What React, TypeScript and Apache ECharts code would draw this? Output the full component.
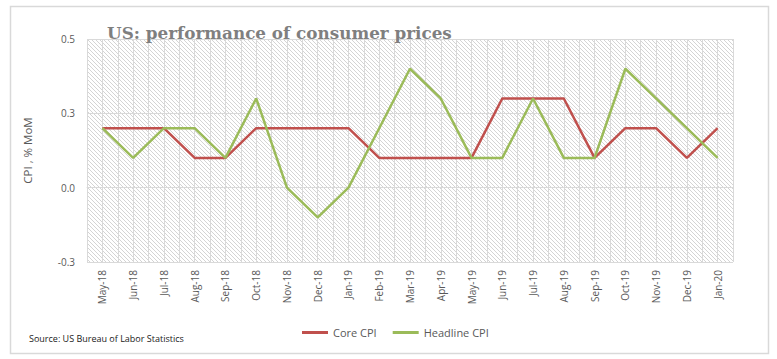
import React, { useEffect, useRef } from "react";
import * as echarts from "echarts";

const categories = [
  "May-18", "Jun-18", "Jul-18", "Aug-18", "Sep-18", "Oct-18", "Nov-18", "Dec-18",
  "Jan-19", "Feb-19", "Mar-19", "Apr-19", "May-19", "Jun-19", "Jul-19", "Aug-19",
  "Sep-19", "Oct-19", "Nov-19", "Dec-19", "Jan-20",
];
const coreCPI = [0.2, 0.2, 0.2, 0.1, 0.1, 0.2, 0.2, 0.2, 0.2, 0.1, 0.1, 0.1, 0.1, 0.3, 0.3, 0.3, 0.1, 0.2, 0.2, 0.1, 0.2];
const headlineCPI = [0.2, 0.1, 0.2, 0.2, 0.1, 0.3, 0.0, -0.1, 0.0, 0.2, 0.4, 0.3, 0.1, 0.1, 0.3, 0.1, 0.1, 0.4, 0.3, 0.2, 0.1];
const yMin = -0.25;
const yMax = 0.5;
const yStep = 0.25;

function fmtTick(v: number): string {
  const a = Math.round(Math.abs(v) * 10) / 10;
  return (v < 0 ? "-" : "") + a.toFixed(1);
}

function makeHatch(): HTMLCanvasElement {
  const c = document.createElement("canvas");
  const s = 4;
  c.width = s;
  c.height = s;
  const ctx = c.getContext("2d")!;
  ctx.fillStyle = "#ffffff";
  ctx.fillRect(0, 0, s, s);
  ctx.strokeStyle = "#d4d4d4";
  ctx.lineWidth = 1;
  ctx.beginPath();
  ctx.moveTo(-1, -1);
  ctx.lineTo(s + 1, s + 1);
  ctx.moveTo(-1, s - 1);
  ctx.lineTo(1, s + 1);
  ctx.moveTo(s - 1, -1);
  ctx.lineTo(s + 1, 1);
  ctx.stroke();
  return c;
}

export default function App() {
  const ref = useRef<HTMLDivElement>(null);
  useEffect(() => {
    document.body.style.margin = "0";
    if (!ref.current) return;
    const chart = echarts.init(ref.current, undefined, { renderer: "svg" });
    const halfCats = categories.flatMap((c) => [c + "a", c + "b"]);
    const labelFont = "'Open Sans', 'Liberation Sans', sans-serif";
    chart.setOption({
      animation: false,
      backgroundColor: "#ffffff",
      grid: {
        left: 87,
        top: 39,
        right: 44,
        bottom: 97,
        show: true,
        borderWidth: 0,
        backgroundColor: { image: makeHatch(), repeat: "repeat" },
      },
      xAxis: [
        {
          type: "category",
          data: categories,
          boundaryGap: true,
          axisLine: { show: true, lineStyle: { color: "#d9d9d9", width: 1 } },
          axisTick: { show: false },
          splitLine: { show: false },
          axisLabel: {
            interval: 0,
            rotate: 90,
            margin: 8,
            color: "#595959",
            fontSize: 10,
            fontFamily: labelFont,
          },
        },
        {
          type: "category",
          data: halfCats,
          boundaryGap: true,
          position: "bottom",
          axisLine: { show: false },
          axisTick: { show: false },
          axisLabel: { show: false, interval: 0 },
          splitLine: { show: true, interval: 0, lineStyle: { color: "#d9d9d9", width: 1 } },
        },
      ],
      yAxis: {
        type: "value",
        min: yMin,
        max: yMax,
        interval: yStep,
        name: "CPI , % MoM",
        nameLocation: "middle",
        nameRotate: 90,
        nameGap: 54,
        nameTextStyle: { color: "#595959", fontSize: 11.5, fontFamily: labelFont },
        axisLine: { show: false },
        axisTick: { show: false },
        splitLine: { show: true, lineStyle: { color: "#d9d9d9", width: 1 } },
        axisLabel: {
          margin: 12,
          color: "#595959",
          fontSize: 10,
          fontFamily: labelFont,
          formatter: (v: number) => fmtTick(v),
        },
      },
      legend: {
        left: 297,
        top: 322,
        itemWidth: 26,
        itemHeight: 3,
        itemGap: 16,
        icon: "rect",
        textStyle: { color: "#595959", fontSize: 11, fontFamily: labelFont },
        data: ["Core CPI", "Headline CPI"],
      },
      series: [
        {
          name: "Core CPI",
          type: "line",
          xAxisIndex: 0,
          data: coreCPI,
          showSymbol: false,
          symbol: "none",
          lineStyle: { color: "#C0504D", width: 2.5 },
          itemStyle: { color: "#C0504D" },
        },
        {
          name: "Headline CPI",
          type: "line",
          xAxisIndex: 0,
          data: headlineCPI,
          showSymbol: false,
          symbol: "none",
          lineStyle: { color: "#9BBB59", width: 2.5 },
          itemStyle: { color: "#9BBB59" },
        },
      ],
      graphic: [
        {
          type: "rect",
          shape: { x: 10.5, y: 6.5, width: 758, height: 347 },
          style: { fill: "none", stroke: "#d9d9d9", lineWidth: 1.5 },
          silent: true,
        },
        {
          type: "text",
          left: 107,
          top: 24,
          z: 100,
          zlevel: 0,
          style: {
            text: "US: performance of consumer prices",
            fill: "#7f7f7f",
            font: "bold 16.8px 'DejaVu Serif', serif",
          },
        },
        {
          type: "text",
          left: 29,
          top: 334,
          style: {
            text: "Source: US Bureau of Labor Statistics",
            fill: "#1a1a1a",
            font: "9px 'Open Sans', 'Liberation Sans', sans-serif",
          },
        },
      ],
    });
    return () => chart.dispose();
  }, []);
  return <div ref={ref} style={{ width: 777, height: 359 }} />;
}
